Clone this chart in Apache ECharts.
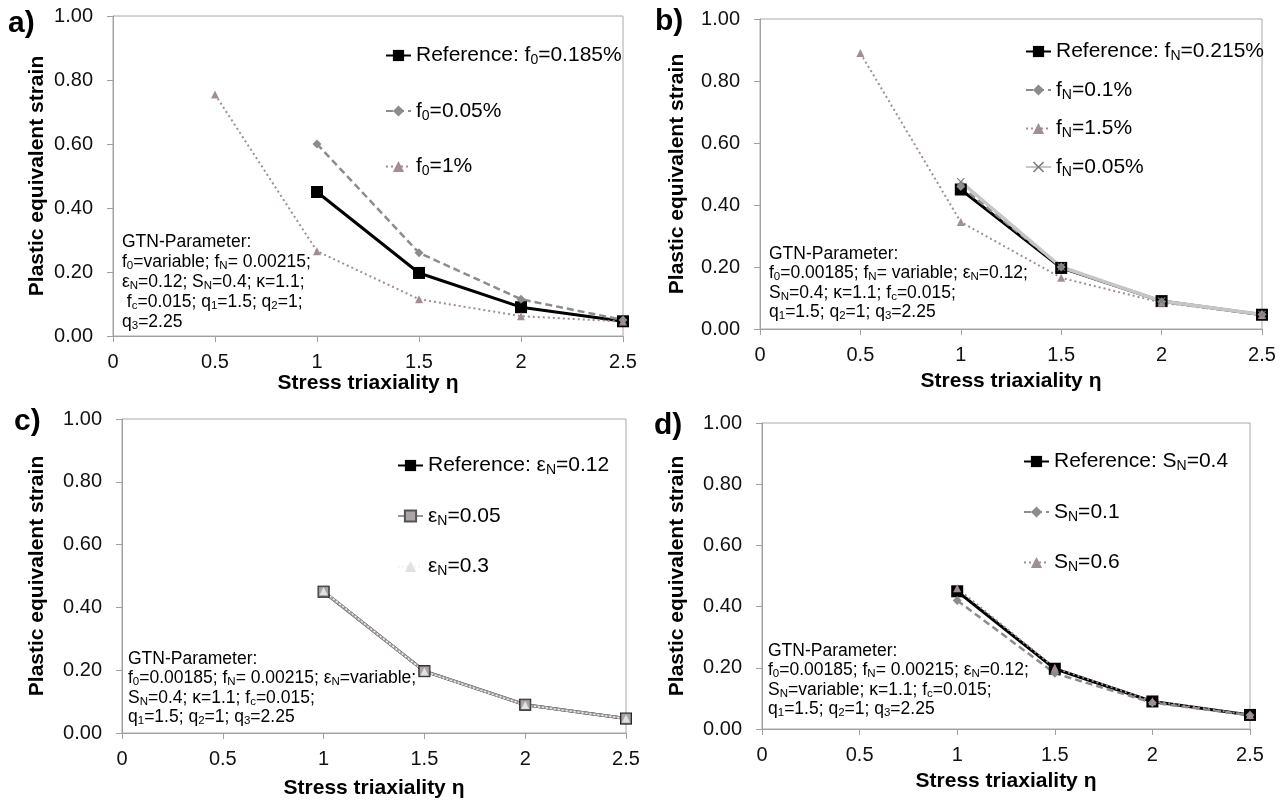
<!DOCTYPE html>
<html lang="en">
<head>
<meta charset="UTF-8">
<title>GTN parameter study</title>
<style>
    html, body { margin: 0; padding: 0; background: #fff; }
    #chart { width: 1283px; height: 801px; }
</style>
</head>
<body>

<div id="chart"></div>

<script src="https://cdn.jsdelivr.net/npm/echarts@6/dist/echarts.min.js"></script>
<script>
    // stress triaxiality (x)
    const etaShort = [1, 1.5, 2, 2.5];
    const etaLong = [0.5, 1, 1.5, 2, 2.5];

    // a) variation of f0
    const aRef = [0.45, 0.197, 0.09, 0.046];
    const aF0low = [0.60, 0.26, 0.115, 0.05];
    const aF0high = [0.755, 0.265, 0.115, 0.062, 0.045];

    // b) variation of fN
    const bRef = [0.45, 0.197, 0.09, 0.046];
    const bFn01 = [0.46, 0.2, 0.088, 0.047];
    const bFn15 = [0.89, 0.345, 0.165, 0.085, 0.045];
    const bFn005 = [0.475, 0.2, 0.09, 0.047];

    // c) variation of epsN
    const cRef = [0.45, 0.197, 0.09, 0.046];
    const cEps005 = [0.45, 0.197, 0.09, 0.046];
    const cEps03 = [0.452, 0.196, 0.089, 0.046];

    // d) variation of SN
    const dRef = [0.45, 0.197, 0.09, 0.046];
    const dSn01 = [0.42, 0.182, 0.086, 0.045];
    const dSn06 = [0.46, 0.2, 0.091, 0.046];

    // legend labels, "_x" = subscript x
    const aNames = ["Reference: f_0=0.185%", "f_0=0.05%", "f_0=1%"];
    const bNames = ["Reference: f_N=0.215%", "f_N=0.1%", "f_N=1.5%", "f_N=0.05%"];
    const cNames = ["Reference: ε_N=0.12", "ε_N=0.05", "ε_N=0.3"];
    const dNames = ["Reference: S_N=0.4", "S_N=0.1", "S_N=0.6"];

    const aNote = ["GTN-Parameter:", "f_0=variable; f_N= 0.00215;", "ε_N=0.12; S_N=0.4; κ=1.1;", " f_c=0.015; q_1=1.5; q_2=1;", "q_3=2.25"];
    const bNote = ["GTN-Parameter:", "f_0=0.00185; f_N= variable; ε_N=0.12;", "S_N=0.4; κ=1.1; f_c=0.015;", "q_1=1.5; q_2=1; q_3=2.25"];
    const cNote = ["GTN-Parameter:", "f_0=0.00185; f_N= 0.00215; ε_N=variable;", "S_N=0.4; κ=1.1; f_c=0.015;", "q_1=1.5; q_2=1; q_3=2.25"];
    const dNote = ["GTN-Parameter:", "f_0=0.00185; f_N= 0.00215; ε_N=0.12;", "S_N=variable; κ=1.1; f_c=0.015;", "q_1=1.5; q_2=1; q_3=2.25"];

    const FONT = "'Liberation Sans', Arial, sans-serif";
    const AXIS_GRAY = "#a0a0a0";

    function toRich(s, b, sb) {
        return s.split(/(_.)/).filter((p) => p).map((p) =>
            p[0] === "_" ? "{" + sb + "|" + p[1] + "}" : "{" + b + "|" + p + "}"
        ).join("");
    }

    function pts(xs, ys) {
        return xs.map((x, i) => [x, ys[i]]);
    }

    const xMark = "path://M1,0L5,4L9,0L10,1L6,5L10,9L9,10L5,6L1,10L0,9L4,5L0,1Z";

    const styles = {
        ref: { color: "#000", width: 3, type: "solid", symbol: "rect", size: 12 },
        dash: { color: "#8c8c8c", width: 2.5, type: [7, 4], symbol: "diamond", size: 9 },
        dot: { color: "#a08e92", width: 2, type: [2, 3], symbol: "triangle", size: 8 },
        lightX: { color: "#c6c6c6", width: 3.5, type: "solid", symbol: xMark, size: 8, mark: "#7a7a7a" },
        graySq: { color: "#9e979b", width: 3, type: "solid", symbol: "rect", size: 10, mark: "#aaa4a7", border: "#555" },
        whiteDot: { color: "#f2f2f2", width: 1.5, type: [2, 2], symbol: "triangle", size: 8, mark: "#e2e2e2" }
    };

    function line(name, grid, xs, ys, st) {
        return {
            name: name,
            type: "line",
            xAxisIndex: grid,
            yAxisIndex: grid,
            data: pts(xs, ys),
            symbol: st.symbol,
            symbolSize: st.size,
            lineStyle: { color: st.color, width: st.width, type: st.type },
            itemStyle: {
                color: st.mark || st.color,
                borderColor: st.border || st.mark || st.color,
                borderWidth: st.border ? 1 : 0
            },
            emphasis: { disabled: true }
        };
    }

    const grids = [
        { left: 113, top: 16, width: 510, height: 320 },
        { left: 760, top: 19, width: 502, height: 310 },
        { left: 122, top: 419, width: 504, height: 314 },
        { left: 762, top: 423, width: 488, height: 306 }
    ];
    const xNameGaps = [34, 42, 45, 42];
    const yNameGaps = [65, 72, 74, 74];

    const legendRich = {
        t: { fontSize: 21, fontFamily: FONT, color: "#000", lineHeight: 24 },
        s: { fontSize: 14, fontFamily: FONT, color: "#000", lineHeight: 10, verticalAlign: "bottom" }
    };
    const noteRich = {
        t: { fontSize: 17.5, fontFamily: FONT, color: "#1a1a1a", lineHeight: 20 },
        s: { fontSize: 11.5, fontFamily: FONT, color: "#1a1a1a", lineHeight: 8, verticalAlign: "bottom" }
    };

    function legend(names, left, top, gap) {
        return {
            data: names,
            orient: "vertical",
            left: left,
            top: top,
            itemGap: gap,
            itemWidth: 25,
            itemHeight: 14,
            selectedMode: false,
            formatter: (n) => toRich(n, "t", "s"),
            textStyle: { rich: legendRich }
        };
    }

    function note(lines, left, top, lh) {
        const rich = {
            t: Object.assign({}, noteRich.t, { lineHeight: lh }),
            s: noteRich.s
        };
        return {
            type: "text",
            left: left,
            top: top,
            style: {
                text: lines.map((l) => toRich(l, "t", "s")).join("\n"),
                rich: rich
            }
        };
    }

    function panelLabel(txt, left, top) {
        return {
            type: "text",
            left: left,
            top: top,
            style: { text: txt, font: "bold 30px " + FONT, fill: "#000" }
        };
    }

    const option = {
        animation: false,
        backgroundColor: "#fff",
        grid: grids.map((g) => Object.assign({ show: true, borderColor: "#a8a8a8", borderWidth: 1 }, g)),
        xAxis: grids.map((g, i) => ({
            type: "value",
            gridIndex: i,
            min: 0,
            max: 2.5,
            interval: 0.5,
            name: "Stress triaxiality η",
            nameLocation: "middle",
            nameGap: xNameGaps[i],
            nameTextStyle: { fontFamily: FONT, fontSize: 21, fontWeight: "bold", color: "#000" },
            axisLine: { lineStyle: { color: AXIS_GRAY } },
            axisTick: { length: 6, lineStyle: { color: AXIS_GRAY } },
            axisLabel: { margin: 16, fontSize: 20, fontFamily: FONT, color: "#111" },
            splitLine: { show: false }
        })),
        yAxis: grids.map((g, i) => ({
            type: "value",
            gridIndex: i,
            min: 0,
            max: 1,
            interval: 0.2,
            name: "Plastic equivalent strain",
            nameLocation: "middle",
            nameGap: yNameGaps[i],
            nameTextStyle: { fontFamily: FONT, fontSize: 21, fontWeight: "bold", color: "#000" },
            axisLine: { show: true, lineStyle: { color: AXIS_GRAY } },
            axisTick: { show: true, length: 6, lineStyle: { color: AXIS_GRAY } },
            axisLabel: { margin: 20, fontSize: 20, fontFamily: FONT, color: "#111", formatter: (v) => v.toFixed(2) },
            splitLine: { show: false }
        })),
        legend: [
            legend(aNames, 380, 40, 33),
            legend(bNames, 1020, 36, 16),
            legend(cNames, 392, 450, 28),
            legend(dNames, 1018, 446, 28)
        ],
        graphic: [
            panelLabel("a)", 8, 9),
            panelLabel("b)", 655, 7),
            panelLabel("c)", 14, 407),
            panelLabel("d)", 654, 411),
            note(aNote, 122, 233, 20),
            note(bNote, 769, 245, 19.5),
            note(cNote, 128, 650, 19.5),
            note(dNote, 768, 642, 19.5)
        ],
        series: [
            line(aNames[0], 0, etaShort, aRef, styles.ref),
            line(aNames[1], 0, etaShort, aF0low, styles.dash),
            line(aNames[2], 0, etaLong, aF0high, styles.dot),

            line(bNames[0], 1, etaShort, bRef, styles.ref),
            line(bNames[1], 1, etaShort, bFn01, styles.dash),
            line(bNames[2], 1, etaLong, bFn15, styles.dot),
            line(bNames[3], 1, etaShort, bFn005, styles.lightX),

            line(cNames[0], 2, etaShort, cRef, styles.ref),
            line(cNames[1], 2, etaShort, cEps005, styles.graySq),
            line(cNames[2], 2, etaShort, cEps03, styles.whiteDot),

            line(dNames[0], 3, etaShort, dRef, styles.ref),
            line(dNames[1], 3, etaShort, dSn01, styles.dash),
            line(dNames[2], 3, etaShort, dSn06, styles.dot)
        ]
    };

    const myChart = echarts.init(document.getElementById("chart"));
    myChart.setOption(option);
</script>

</body>
</html>
